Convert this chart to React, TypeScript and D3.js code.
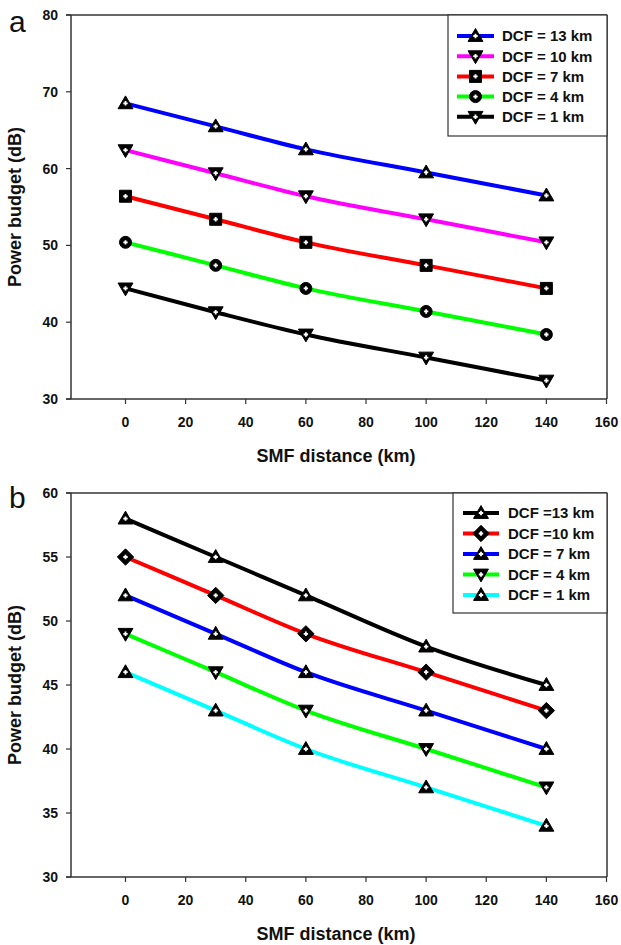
import React from "react";
import * as d3 from "d3";

const xDist = [0, 30, 60, 100, 140];
const xTicks = [0, 20, 40, 60, 80, 100, 120, 140, 160];

const aLabels = ["DCF = 13 km", "DCF = 10 km", "DCF = 7 km", "DCF = 4 km", "DCF = 1 km"];
const aColors = ["#0000ff", "#ff00ff", "#ff0000", "#00ff00", "#000000"];
const aMarkers = ["tri-up", "tri-down", "square", "circle", "tri-down"];
const a13 = [68.5, 65.5, 62.5, 59.5, 56.5];
const a10 = [62.4, 59.4, 56.4, 53.4, 50.4];
const a7 = [56.4, 53.4, 50.4, 47.4, 44.4];
const a4 = [50.4, 47.4, 44.4, 41.4, 38.4];
const a1 = [44.4, 41.3, 38.4, 35.4, 32.4];
const aYTicks = [30, 40, 50, 60, 70, 80];

const bLabels = ["DCF =13 km", "DCF =10 km", "DCF = 7 km", "DCF = 4 km", "DCF = 1 km"];
const bColors = ["#000000", "#ff0000", "#0000ff", "#00ff00", "#00ffff"];
const bMarkers = ["tri-up", "diamond", "tri-up", "tri-down", "tri-up"];
const b13 = [58, 55, 52, 48, 45];
const b10 = [55, 52, 49, 46, 43];
const b7 = [52, 49, 46, 43, 40];
const b4 = [49, 46, 43, 40, 37];
const b1 = [46, 43, 40, 37, 34];
const bYTicks = [30, 35, 40, 45, 50, 55, 60];

const FONT = "'Liberation Sans', Arial, sans-serif";

function markerPath(kind: string, s: number): string {
  switch (kind) {
    case "tri-up":
      return `M0,${-s * 0.62}L${s * 0.62},${s * 0.45}L${-s * 0.62},${s * 0.45}Z`;
    case "tri-down":
      return `M0,${s * 0.62}L${s * 0.62},${-s * 0.45}L${-s * 0.62},${-s * 0.45}Z`;
    case "square":
      return `M${-s / 2},${-s / 2}h${s}v${s}h${-s}Z`;
    case "diamond":
      return `M0,${-s * 0.68}L${s * 0.68},0L0,${s * 0.68}L${-s * 0.68},0Z`;
    default:
      return d3.arc()({ innerRadius: 0, outerRadius: s / 2, startAngle: 0, endAngle: 2 * Math.PI }) as string;
  }
}

function Marker({ kind, x, y }: { kind: string; x: number; y: number }) {
  const s = 12;
  return (
    <g transform={`translate(${x},${y})`}>
      <path d={markerPath(kind, s)} fill="#000" stroke="#000" strokeWidth={1} strokeLinejoin="round" />
      <path d="M-2.2,0H2.2M0,-2.2V2.2" stroke="#fff" strokeWidth={1.8} />
    </g>
  );
}

type PanelProps = {
  letter: string;
  letterDy: number;
  top: number;
  bottom: number;
  yDomain: [number, number];
  yTicks: number[];
  series: number[][];
  colors: string[];
  markers: string[];
  labels: string[];
  legend: { x0: number; y1: number; lineX0: number; lineX1: number; textX: number; rowY0: number; rowStep: number };
};

function Panel(p: PanelProps) {
  const left = 71;
  const right = 607;
  const x = d3.scaleLinear().domain([0, 160]).range([125.5, 606.5]);
  const y = d3.scaleLinear().domain(p.yDomain).range([p.bottom, p.top]);
  const line = d3
    .line<number>()
    .x((_, i) => x(xDist[i]))
    .y((v) => y(v))
    .curve(d3.curveMonotoneX);
  const frame = "#333";
  const L = p.legend;
  return (
    <g>
      <text x={9} y={p.top + p.letterDy} fontFamily={FONT} fontSize={30} fill="#111">
        {p.letter}
      </text>
      <line x1={66} x2={right} y1={p.top} y2={p.top} stroke={frame} strokeWidth={1.5} />
      <line x1={66} x2={right} y1={p.bottom} y2={p.bottom} stroke={frame} strokeWidth={1.5} />
      <line x1={left} x2={left} y1={p.top} y2={p.bottom} stroke={frame} strokeWidth={1.5} />
      <line x1={right} x2={right} y1={p.top} y2={p.bottom} stroke={frame} strokeWidth={1.5} />
      {p.yTicks.map((t) => (
        <g key={"y" + t}>
          <line x1={left - 5} x2={left} y1={y(t)} y2={y(t)} stroke={frame} strokeWidth={1.2} />
          <text x={58} y={y(t)} dy="0.35em" textAnchor="end" fontFamily={FONT} fontWeight="bold" fontSize={14} fill="#111">
            {t}
          </text>
        </g>
      ))}
      {xTicks.map((t) => (
        <g key={"x" + t}>
          <line x1={x(t)} x2={x(t)} y1={p.bottom} y2={p.bottom + 5} stroke={frame} strokeWidth={1.2} />
          <text x={x(t)} y={p.bottom + 28} textAnchor="middle" fontFamily={FONT} fontWeight="bold" fontSize={14} fill="#111">
            {t}
          </text>
        </g>
      ))}
      <text x={336} y={p.bottom + 63} textAnchor="middle" fontFamily={FONT} fontWeight="bold" fontSize={18} fill="#111">
        SMF distance (km)
      </text>
      <text
        transform={`translate(21,${(p.top + p.bottom) / 2}) rotate(-90)`}
        textAnchor="middle"
        fontFamily={FONT}
        fontWeight="bold"
        fontSize={18}
        fill="#111"
      >
        Power budget (dB)
      </text>
      {p.series.map((s, i) => (
        <g key={"s" + i}>
          <path d={line(s) as string} fill="none" stroke={p.colors[i]} strokeWidth={4} />
          {s.map((v, j) => (
            <Marker key={j} kind={p.markers[i]} x={x(xDist[j])} y={y(v)} />
          ))}
        </g>
      ))}
      <rect x={L.x0} y={p.top} width={right - L.x0} height={L.y1 - p.top} fill="#fff" stroke={frame} strokeWidth={1.2} />
      {p.labels.map((lab, i) => {
        const ry = L.rowY0 + i * L.rowStep;
        return (
          <g key={"l" + i}>
            <line x1={L.lineX0} x2={L.lineX1} y1={ry} y2={ry} stroke={p.colors[i]} strokeWidth={4} />
            <Marker kind={p.markers[i]} x={(L.lineX0 + L.lineX1) / 2} y={ry} />
            <text x={L.textX} y={ry} dy="0.36em" fontFamily={FONT} fontWeight="bold" fontSize={15} fill="#111">
              {lab}
            </text>
          </g>
        );
      })}
    </g>
  );
}

export default function App() {
  return (
    <svg width={621} height={945} style={{ position: "absolute", left: 0, top: 0, background: "#fff" }}>
      <rect width={621} height={945} fill="#fff" />
      <Panel
        letter="a"
        letterDy={17}
        top={15}
        bottom={399}
        yDomain={[30, 80]}
        yTicks={aYTicks}
        series={[a13, a10, a7, a4, a1]}
        colors={aColors}
        markers={aMarkers}
        labels={aLabels}
        legend={{ x0: 448, y1: 136, lineX0: 457, lineX1: 494, textX: 502, rowY0: 36, rowStep: 20.2 }}
      />
      <Panel
        letter="b"
        letterDy={15}
        top={493}
        bottom={877}
        yDomain={[30, 60]}
        yTicks={bYTicks}
        series={[b13, b10, b7, b4, b1]}
        colors={bColors}
        markers={bMarkers}
        labels={bLabels}
        legend={{ x0: 453, y1: 613, lineX0: 463, lineX1: 499, textX: 508, rowY0: 513, rowStep: 20.5 }}
      />
    </svg>
  );
}
